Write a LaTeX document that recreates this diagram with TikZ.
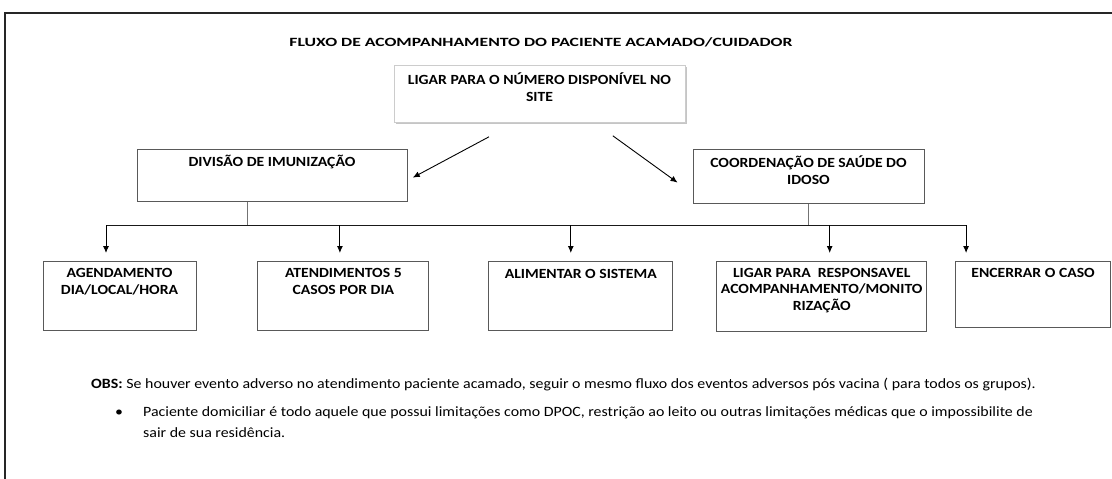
\documentclass[tikz,border=0pt]{standalone}
\usepackage{fontspec}
\setmainfont{Carlito}[FakeStretch=1.12]
\newfontfamily\headfont{Carlito}[FakeStretch=1.4]
\usetikzlibrary{positioning,shadows,arrows.meta}

\tikzset{
  stepbox/.style={draw=black!65, line width=0.9pt, align=center, inner xsep=0pt, inner ysep=0pt,
    font=\bfseries\fontsize{14}{16.5}\selectfont},
  stem/.style={draw=black!55, line width=1pt},
  bus/.style={draw=black!90, line width=0.9pt},
  tip/.style={-{Latex[length=7pt,width=6pt]}, line width=0.9pt},
  note/.style={font=\fontsize{14.2}{21}\selectfont, inner sep=0pt},
}

\begin{document}
\begin{tikzpicture}[x=1pt,y=-1pt]
\useasboundingbox (0,0) rectangle (1112,479);
% outer frame
\draw[line width=2pt, black!85] (5,481) -- (5,13) -- (1114,13);

\node[font=\headfont\bfseries\fontsize{12.6}{14}\selectfont] (title) at (541,42) {FLUXO DE ACOMPANHAMENTO DO PACIENTE ACAMADO/CUIDADOR};

% first level
\node[stepbox, draw=black!20, drop shadow={shadow xshift=1.5pt, shadow yshift=-1.5pt, fill=black!45},
  fill=white, minimum width=291pt, text height=36pt, text depth=21pt, anchor=north] (site) at (539.5,65)
  {LIGAR PARA O NÚMERO DISPONÍVEL NO\\SITE};

\node[stepbox, minimum width=270pt, text height=17.5pt, text depth=34.5pt, anchor=north] (imun) at (272,149)
  {DIVISÃO DE IMUNIZAÇÃO};
\node[stepbox, minimum width=231pt, text height=35pt, text depth=19pt, anchor=north] (idoso) at (808.5,149)
  {COORDENAÇÃO DE SAÚDE DO\\IDOSO};

% second level
\node[stepbox, minimum width=153pt, text height=33pt, text depth=36pt, anchor=north] (agend) at (119.5,261)
  {AGENDAMENTO\\DIA/LOCAL/HORA};
\node[stepbox, minimum width=171pt, text height=33pt, text depth=36pt] (atend) [right=61pt of agend.north east, anchor=north west]
  {ATENDIMENTOS 5\\CASOS POR DIA};
\node[stepbox, minimum width=184pt, text height=17pt, text depth=52pt] (alim) [right=59pt of atend.north east, anchor=north west]
  {ALIMENTAR O SISTEMA};
\node[stepbox, minimum width=210pt, text height=49pt, text depth=21pt] (resp) [right=43pt of alim.north east, anchor=north west]
  {LIGAR PARA~ RESPONSAVEL\\ACOMPANHAMENTO/MONITO\\RIZAÇÃO};
\node[stepbox, minimum width=155pt, text height=16pt, text depth=50pt] (encer) [right=28pt of resp.north east, anchor=north west]
  {ENCERRAR O CASO};

% connectors
\draw[tip, shorten <=29.5pt, shorten >=6pt] ([xshift=-24.5pt]site.south) -- ([yshift=-5pt]imun.east);
\draw[tip, shorten <=22pt, shorten >=18.5pt] ([xshift=55.5pt]site.south) -- ([yshift=-17pt]idoso.west);

\draw[stem] ([xshift=-25pt]imun.south) -- ++(0,24);
\draw[stem] (idoso.south) -- ++(0,22);
\draw[bus] ([xshift=-13.5pt,yshift=36pt]agend.north) -- ([xshift=-67pt,yshift=36pt]encer.north);
\foreach \n/\dx in {agend/-13.5, atend/-3.5, alim/-10, resp/8, encer/-67}
  \draw[tip] ([xshift=\dx pt,yshift=36pt]\n.north) -- ++(0,28);

% notes
\node[note, anchor=base west] (obs) at (91,388)
  {\textbf{OBS:} Se houver evento adverso no atendimento paciente acamado, seguir o mesmo fluxo dos eventos adversos pós vacina ( para todos os grupos).};
\node[note, anchor=base] (bul) at (119,416) {•};
\node[note, anchor=base west, align=left] (pac) at (143,437)
  {Paciente domiciliar é todo aquele que possui limitações como DPOC, restrição ao leito ou outras limitações médicas que o impossibilite de\\sair de sua residência.};

\end{tikzpicture}
\end{document}
